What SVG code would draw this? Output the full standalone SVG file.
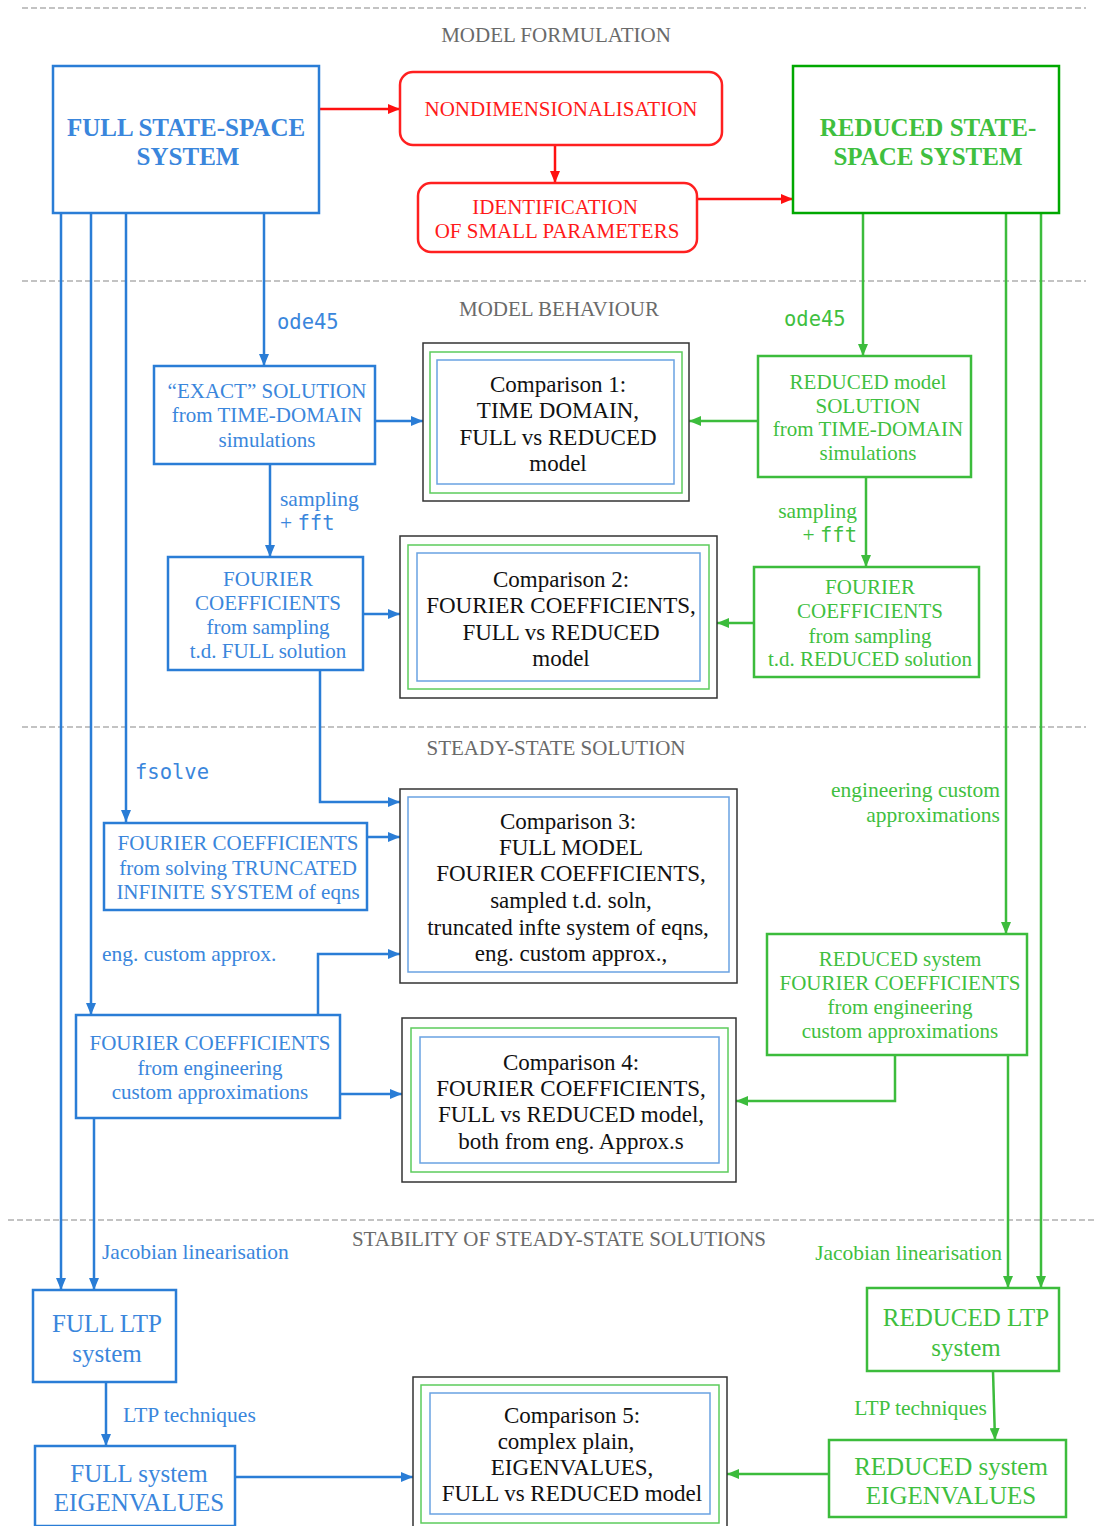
<svg xmlns="http://www.w3.org/2000/svg" width="1094" height="1526" viewBox="0 0 1094 1526">
<style>
.sep{stroke:#888;stroke-width:1.2;stroke-dasharray:6,3;fill:none}
.sec{font-family:"Liberation Serif",serif;font-size:21px;fill:#6a6a6a;text-anchor:middle}
.t{font-family:"Liberation Serif",serif;font-size:21px;text-anchor:middle}
.tb{fill:#3a86dc}
.tg{fill:#3fbf3f}
.tr{fill:#ff1a1a}
.tk{fill:#111;font-size:23px}
.big{font-size:25px}
.bold{font-weight:bold;font-size:25px}
.mono{font-family:"DejaVu Sans Mono",monospace;font-size:20.5px}
.lbl{font-family:"Liberation Serif",serif;font-size:21.5px}
.bbox{fill:#fff;stroke:#2a7dd6;stroke-width:2.5}
.gbox{fill:#fff;stroke:#3cbc3c;stroke-width:2.5}
.gbox2{fill:#fff;stroke:#00a800;stroke-width:2.5}
.rbox{fill:#fff;stroke:#ff2020;stroke-width:2.5}
.outer{fill:#fff;stroke:#333;stroke-width:1.5}
.ing{fill:none;stroke:#5ccc5c;stroke-width:1.5}
.inb{fill:none;stroke:#6aa2e2;stroke-width:1.5}
.cb{fill:none;stroke:#2a7dd6;stroke-width:2.5}
.cg{fill:none;stroke:#3cbc3c;stroke-width:2.5}
.cr{fill:none;stroke:#ff1010;stroke-width:2.5}
</style>
<defs>
<marker id="mb" viewBox="0 0 12 10" refX="12" refY="5" markerWidth="12" markerHeight="10" markerUnits="userSpaceOnUse" orient="auto"><path d="M0,0 L12,5 L0,10 z" fill="#2a7dd6"/></marker>
<marker id="mg" viewBox="0 0 12 10" refX="12" refY="5" markerWidth="12" markerHeight="10" markerUnits="userSpaceOnUse" orient="auto"><path d="M0,0 L12,5 L0,10 z" fill="#3cbc3c"/></marker>
<marker id="mr" viewBox="0 0 12 10" refX="12" refY="5" markerWidth="12" markerHeight="10" markerUnits="userSpaceOnUse" orient="auto"><path d="M0,0 L12,5 L0,10 z" fill="#ff1010"/></marker>
</defs>
<rect width="1094" height="1526" fill="#fff"/>

<g id="separators">
<line class="sep" x1="22" y1="8" x2="1086" y2="8"/>
<line class="sep" x1="22" y1="281" x2="1086" y2="281"/>
<line class="sep" x1="22" y1="727" x2="1086" y2="727"/>
<line class="sep" x1="8" y1="1220" x2="1094" y2="1220"/>
<text class="sec" x="556" y="42">MODEL FORMULATION</text>
<text class="sec" x="559" y="316">MODEL BEHAVIOUR</text>
<text class="sec" x="556" y="755">STEADY-STATE SOLUTION</text>
<text class="sec" x="559" y="1246">STABILITY OF STEADY-STATE SOLUTIONS</text>
</g>

<g id="connectors">
<path class="cr" d="M319,109 H400" marker-end="url(#mr)"/>
<path class="cr" d="M555,145 V183" marker-end="url(#mr)"/>
<path class="cr" d="M697,199 H793" marker-end="url(#mr)"/>
<path class="cb" d="M61,213 V1290" marker-end="url(#mb)"/>
<path class="cb" d="M91,213 V1015" marker-end="url(#mb)"/>
<path class="cb" d="M126,213 V822" marker-end="url(#mb)"/>
<path class="cb" d="M264,213 V366" marker-end="url(#mb)"/>
<path class="cb" d="M375,421 H423" marker-end="url(#mb)"/>
<path class="cb" d="M270,464 V557" marker-end="url(#mb)"/>
<path class="cb" d="M363,614 H400" marker-end="url(#mb)"/>
<path class="cb" d="M320,670 V802 H400" marker-end="url(#mb)"/>
<path class="cb" d="M367,837 H400" marker-end="url(#mb)"/>
<path class="cb" d="M318,1015 V954 H400" marker-end="url(#mb)"/>
<path class="cb" d="M340,1094 H402" marker-end="url(#mb)"/>
<path class="cb" d="M94,1118 V1290" marker-end="url(#mb)"/>
<path class="cb" d="M106,1382 V1446" marker-end="url(#mb)"/>
<path class="cb" d="M235,1477 H413" marker-end="url(#mb)"/>
<path class="cg" d="M863,213 V356" marker-end="url(#mg)"/>
<path class="cg" d="M758,421 H689" marker-end="url(#mg)"/>
<path class="cg" d="M866,477 V567" marker-end="url(#mg)"/>
<path class="cg" d="M754,623 H717" marker-end="url(#mg)"/>
<path class="cg" d="M1006,213 V934" marker-end="url(#mg)"/>
<path class="cg" d="M1041,213 V1288" marker-end="url(#mg)"/>
<path class="cg" d="M895,1055 V1101 H736" marker-end="url(#mg)"/>
<path class="cg" d="M1008,1055 V1288" marker-end="url(#mg)"/>
<path class="cg" d="M993,1371 L995,1440" marker-end="url(#mg)"/>
<path class="cg" d="M829,1474 H727" marker-end="url(#mg)"/>
<text class="mono" x="277" y="329" fill="#3a86dc">ode45</text>
<text class="mono" x="784" y="326" fill="#3fbf3f">ode45</text>
<text class="lbl" x="280" y="506" fill="#3a86dc">sampling</text>
<text class="lbl" x="280" y="530" fill="#3a86dc">+ <tspan class="mono">fft</tspan></text>
<text class="lbl" x="857" y="518" fill="#3fbf3f" text-anchor="end">sampling</text>
<text class="lbl" x="857" y="542" fill="#3fbf3f" text-anchor="end">+ <tspan class="mono">fft</tspan></text>
<text class="mono" x="135" y="779" fill="#3a86dc">fsolve</text>
<text class="lbl" x="102" y="961" fill="#3a86dc">eng. custom approx.</text>
<text class="lbl" x="1000" y="797" fill="#3fbf3f" text-anchor="end">engineering custom</text>
<text class="lbl" x="1000" y="822" fill="#3fbf3f" text-anchor="end">approximations</text>
<text class="lbl" x="102" y="1259" fill="#3a86dc">Jacobian linearisation</text>
<text class="lbl" x="1002" y="1260" fill="#3fbf3f" text-anchor="end">Jacobian linearisation</text>
<text class="lbl" x="123" y="1422" fill="#3a86dc">LTP techniques</text>
<text class="lbl" x="987" y="1415" fill="#3fbf3f" text-anchor="end">LTP techniques</text>
</g>

<g id="full-ss">
<rect class="bbox" x="53" y="66" width="266" height="147"/>
<text class="t tb bold" x="186" y="136">FULL STATE-SPACE</text>
<text class="t tb bold" x="188" y="165">SYSTEM</text>
</g>
<g id="nondim">
<rect class="rbox" x="400" y="72" width="322" height="73" rx="13"/>
<text class="t tr" x="561" y="116">NONDIMENSIONALISATION</text>
</g>
<g id="ident">
<rect class="rbox" x="418" y="183" width="279" height="69" rx="13"/>
<text class="t tr" x="555" y="214">IDENTIFICATION</text>
<text class="t tr" x="557" y="238">OF SMALL PARAMETERS</text>
</g>
<g id="reduced-ss">
<rect class="gbox2" x="793" y="66" width="266" height="147"/>
<text class="t tg bold" x="928" y="136">REDUCED STATE-</text>
<text class="t tg bold" x="928" y="165">SPACE SYSTEM</text>
</g>

<g id="exact">
<rect class="bbox" x="154" y="366" width="221" height="98"/>
<text class="t tb" x="267" y="398">“EXACT” SOLUTION</text>
<text class="t tb" x="267" y="422">from TIME-DOMAIN</text>
<text class="t tb" x="267" y="447">simulations</text>
</g>
<g id="cmp1">
<rect class="outer" x="423" y="343" width="266" height="158"/>
<rect class="ing" x="430" y="352" width="252" height="141"/>
<rect class="inb" x="437" y="360" width="237" height="124"/>
<text class="t tk" x="558" y="392">Comparison 1:</text>
<text class="t tk" x="558" y="418">TIME DOMAIN,</text>
<text class="t tk" x="558" y="445">FULL vs REDUCED</text>
<text class="t tk" x="558" y="471">model</text>
</g>
<g id="red-sol">
<rect class="gbox" x="758" y="356" width="213" height="121"/>
<text class="t tg" x="868" y="389">REDUCED model</text>
<text class="t tg" x="868" y="413">SOLUTION</text>
<text class="t tg" x="868" y="436">from TIME-DOMAIN</text>
<text class="t tg" x="868" y="460">simulations</text>
</g>
<g id="full-fc">
<rect class="bbox" x="168" y="557" width="195" height="113"/>
<text class="t tb" x="268" y="586">FOURIER</text>
<text class="t tb" x="268" y="610">COEFFICIENTS</text>
<text class="t tb" x="268" y="634">from sampling</text>
<text class="t tb" x="268" y="658">t.d. FULL solution</text>
</g>
<g id="cmp2">
<rect class="outer" x="400" y="536" width="317" height="162"/>
<rect class="ing" x="408" y="545" width="301" height="144"/>
<rect class="inb" x="417" y="553" width="283" height="128"/>
<text class="t tk" x="561" y="587">Comparison 2:</text>
<text class="t tk" x="561" y="613">FOURIER COEFFICIENTS,</text>
<text class="t tk" x="561" y="640">FULL vs REDUCED</text>
<text class="t tk" x="561" y="666">model</text>
</g>
<g id="red-fc">
<rect class="gbox" x="754" y="567" width="225" height="110"/>
<text class="t tg" x="870" y="594">FOURIER</text>
<text class="t tg" x="870" y="618">COEFFICIENTS</text>
<text class="t tg" x="870" y="643">from sampling</text>
<text class="t tg" x="870" y="666">t.d. REDUCED solution</text>
</g>

<g id="full-trunc">
<rect class="bbox" x="104" y="823" width="263" height="87"/>
<text class="t tb" x="238" y="850">FOURIER COEFFICIENTS</text>
<text class="t tb" x="238" y="875">from solving TRUNCATED</text>
<text class="t tb" x="238" y="899">INFINITE SYSTEM of eqns</text>
</g>
<g id="cmp3">
<rect class="outer" x="400" y="789" width="337" height="194"/>
<rect class="inb" x="408" y="797" width="321" height="175"/>
<text class="t tk" x="568" y="829">Comparison 3:</text>
<text class="t tk" x="571" y="855">FULL MODEL</text>
<text class="t tk" x="571" y="881">FOURIER COEFFICIENTS,</text>
<text class="t tk" x="571" y="908">sampled t.d. soln,</text>
<text class="t tk" x="568" y="935">truncated infte system of eqns,</text>
<text class="t tk" x="571" y="961">eng. custom approx.,</text>
</g>
<g id="full-eng">
<rect class="bbox" x="76" y="1015" width="264" height="103"/>
<text class="t tb" x="210" y="1050">FOURIER COEFFICIENTS</text>
<text class="t tb" x="210" y="1075">from engineering</text>
<text class="t tb" x="210" y="1099">custom approximations</text>
</g>
<g id="red-eng">
<rect class="gbox" x="767" y="934" width="260" height="121"/>
<text class="t tg" x="900" y="966">REDUCED system</text>
<text class="t tg" x="900" y="990">FOURIER COEFFICIENTS</text>
<text class="t tg" x="900" y="1014">from engineering</text>
<text class="t tg" x="900" y="1038">custom approximations</text>
</g>
<g id="cmp4">
<rect class="outer" x="402" y="1018" width="334" height="164"/>
<rect class="ing" x="411" y="1028" width="317" height="144"/>
<rect class="inb" x="420" y="1037" width="299" height="126"/>
<text class="t tk" x="571" y="1070">Comparison 4:</text>
<text class="t tk" x="571" y="1096">FOURIER COEFFICIENTS,</text>
<text class="t tk" x="571" y="1122">FULL vs REDUCED model,</text>
<text class="t tk" x="571" y="1149">both from eng. Approx.s</text>
</g>

<g id="full-ltp">
<rect class="bbox" x="33" y="1290" width="143" height="92"/>
<text class="t tb big" x="107" y="1332">FULL LTP</text>
<text class="t tb big" x="107" y="1362">system</text>
</g>
<g id="full-eig">
<rect class="bbox" x="35" y="1446" width="200" height="80"/>
<text class="t tb big" x="139" y="1482">FULL system</text>
<text class="t tb big" x="139" y="1511">EIGENVALUES</text>
</g>
<g id="cmp5">
<rect class="outer" x="413" y="1377" width="314" height="152"/>
<rect class="ing" x="421" y="1385" width="298" height="138"/>
<rect class="inb" x="430" y="1393" width="280" height="121"/>
<text class="t tk" x="572" y="1423">Comparison 5:</text>
<text class="t tk" x="566" y="1449">complex plain,</text>
<text class="t tk" x="572" y="1475">EIGENVALUES,</text>
<text class="t tk" x="572" y="1501">FULL vs REDUCED model</text>
</g>
<g id="red-ltp">
<rect class="gbox" x="867" y="1288" width="192" height="83"/>
<text class="t tg big" x="966" y="1326">REDUCED LTP</text>
<text class="t tg big" x="966" y="1356">system</text>
</g>
<g id="red-eig">
<rect class="gbox" x="829" y="1440" width="237" height="77"/>
<text class="t tg big" x="951" y="1475">REDUCED system</text>
<text class="t tg big" x="951" y="1504">EIGENVALUES</text>
</g>
</svg>
